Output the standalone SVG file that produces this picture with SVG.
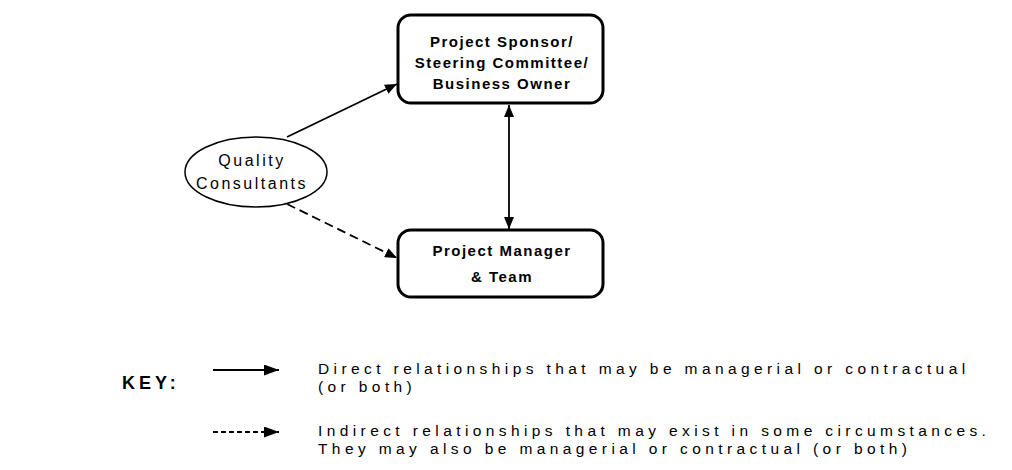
<svg xmlns="http://www.w3.org/2000/svg" width="1012" height="470" viewBox="0 0 1012 470">
  <style>
    .box { fill: #ffffff; stroke: #000000; stroke-width: 3; }
    .oval { fill: #ffffff; stroke: #000000; stroke-width: 1.5; }
    .boxtxt { font-family: "Liberation Sans", Arial, sans-serif; font-weight: bold; font-size: 15px; letter-spacing: 1.5px; text-anchor: middle; fill: #000; }
    .ovaltxt { font-family: "Liberation Sans", Arial, sans-serif; font-size: 16px; letter-spacing: 2.5px; text-anchor: middle; fill: #000; }
    .keytxt { font-family: "Liberation Sans", Arial, sans-serif; font-size: 15.5px; letter-spacing: 4.4px; fill: #000; }
    .keyhead { font-family: "Liberation Sans", Arial, sans-serif; font-weight: bold; font-size: 18px; letter-spacing: 4px; fill: #000; }
    .conn { fill: none; stroke: #000000; stroke-width: 1.8; }
    .dash { stroke-dasharray: 9 5; }
    .keydash { stroke-dasharray: 5 3; }
  </style>
  <defs>
    <marker id="head" viewBox="0 0 12 10" refX="12" refY="5" markerWidth="12" markerHeight="10" markerUnits="userSpaceOnUse" orient="auto">
      <path d="M0,0 L12,5 L0,10 Z" fill="#000"/>
    </marker>
    <marker id="headStart" viewBox="0 0 12 10" refX="0" refY="5" markerWidth="12" markerHeight="10" markerUnits="userSpaceOnUse" orient="auto">
      <path d="M12,0 L0,5 L12,10 Z" fill="#000"/>
    </marker>
    <marker id="keyhead" viewBox="0 0 15 11" refX="15" refY="5.5" markerWidth="15" markerHeight="11" markerUnits="userSpaceOnUse" orient="auto">
      <path d="M0,0 L15,5.5 L0,11 Z" fill="#000"/>
    </marker>
  </defs>

  <!-- relationships -->
  <g id="connectors">
    <line class="conn" x1="287" y1="137" x2="397" y2="84" marker-end="url(#head)"/>
    <line class="conn dash" x1="287" y1="204" x2="397" y2="258" marker-end="url(#head)"/>
    <line class="conn" x1="509" y1="105" x2="509" y2="229" marker-start="url(#headStart)" marker-end="url(#head)"/>
  </g>

  <g id="sponsor">
    <rect class="box" x="398" y="15" width="205" height="88" rx="13" ry="13"/>
    <text class="boxtxt" x="502" y="47">Project Sponsor/</text>
    <text class="boxtxt" x="502" y="68">Steering Committee/</text>
    <text class="boxtxt" x="502" y="89">Business Owner</text>
  </g>

  <g id="manager">
    <rect class="box" x="398" y="230" width="205" height="67" rx="13" ry="13"/>
    <text class="boxtxt" x="502" y="256">Project Manager</text>
    <text class="boxtxt" x="502" y="282">&amp; Team</text>
  </g>

  <g id="consultants">
    <ellipse class="oval" cx="256" cy="172" rx="71" ry="35"/>
    <text class="ovaltxt" x="252" y="166">Quality</text>
    <text class="ovaltxt" x="252" y="189">Consultants</text>
  </g>

  <!-- legend -->
  <g id="key">
    <text class="keyhead" x="122" y="389">KEY:</text>
    <line class="conn" x1="213" y1="370" x2="279" y2="370" marker-end="url(#keyhead)"/>
    <line class="conn keydash" x1="213" y1="432" x2="279" y2="432" stroke-width="1.4" marker-end="url(#keyhead)"/>
    <text class="keytxt" x="318" y="374">Direct relationships that may be managerial or contractual</text>
    <text class="keytxt" x="318" y="391.5">(or both)</text>
    <text class="keytxt" x="318" y="436">Indirect relationships that may exist in some circumstances.</text>
    <text class="keytxt" x="318" y="453.5">They may also be managerial or contractual (or both)</text>
  </g>
</svg>
